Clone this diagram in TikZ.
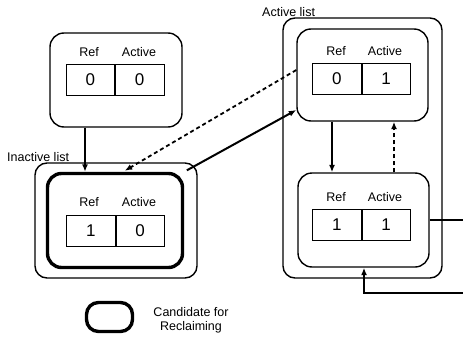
\documentclass[tikz,border=0pt]{standalone}
\usepackage{fontspec}
\setmainfont{Liberation Sans}
\usetikzlibrary{arrows.meta,calc}
\begin{document}
\begin{tikzpicture}[x=1pt,y=-1pt,
  box/.style={draw, line width=1.4pt, rounded corners=14pt, inner sep=0pt},
  listbox/.style={draw, line width=1.4pt, rounded corners=12pt, inner sep=0pt},
  thickbox/.style={draw, line width=3.4pt, rounded corners=14pt, inner sep=0pt},
  cell/.style={draw, line width=0.9pt, minimum width=48.5pt, minimum height=31pt, inner sep=0pt, font=\fontsize{17}{17}\selectfont},
  lbl/.style={font=\fontsize{12.5}{14}\selectfont, inner sep=0pt},
  arr/.style={line width=2pt, -{Latex[length=7.5pt,width=6pt]}},
  darr/.style={line width=1.8pt, dash pattern=on 4pt off 3pt, -{Latex[length=7.5pt,width=6pt]}},
  plainline/.style={line width=2pt},
]
\useasboundingbox (0,0) rectangle (463,348);

% top-left page
\node[box, minimum width=132pt, minimum height=94pt] (A) at (116,80) {};
\node[lbl] (Aref) at (89,52) {Ref};
\node[lbl] (Aact) at (139,52) {Active};
\node[cell, anchor=east] (A1) at (115,80) {0};
\node[cell, anchor=west] (A2) at (115,80) {0};

% inactive list
\node[lbl, anchor=west] (inLbl) at (7,157) {Inactive list};
\node[listbox, minimum width=162pt, minimum height=115pt] (inOuter) at (116,220.5) {};
\node[thickbox, minimum width=135pt, minimum height=94pt] (inInner) at (115,220.5) {};
\node[lbl] (Bref) at (89,202) {Ref};
\node[lbl] (Bact) at (139,202) {Active};
\node[cell, anchor=east] (B1) at (115.5,230.5) {1};
\node[cell, anchor=west] (B2) at (115.5,230.5) {0};

% active list
\node[lbl, anchor=west] (acLbl) at (262,12) {Active list};
\node[listbox, minimum width=159pt, minimum height=260pt] (acOuter) at (362.5,148) {};
\node[box, minimum width=131pt, minimum height=92pt] (upAct) at (362.5,75) {};
\node[lbl] (Cref) at (336,51) {Ref};
\node[lbl] (Cact) at (385,51) {Active};
\node[cell, anchor=east] (C1) at (361.5,79) {0};
\node[cell, anchor=west] (C2) at (361.5,79) {1};

\node[box, minimum width=131pt, minimum height=94pt] (lowAct) at (363.5,220) {};
\node[lbl] (Dref) at (336,197) {Ref};
\node[lbl] (Dact) at (385,197) {Active};
\node[cell, anchor=east] (D1) at (361.5,225) {1};
\node[cell, anchor=west] (D2) at (361.5,225) {1};

% legend
\node[thickbox, rounded corners=12pt, minimum width=46pt, minimum height=29pt] (legBox) at (109.5,317) {};
\node[lbl, align=center] (legTxt) at (191,320) {Candidate for\\Reclaiming};

% helper coordinates
\coordinate (xa) at (85,0);
\coordinate (yb) at (0,110);
\coordinate (yc) at (0,70);
\coordinate (xd) at (123,0);
\coordinate (xf) at (332,0);
\coordinate (xg) at (394,0);
\coordinate (xe) at (364,0);
\coordinate (r1) at (463,220);
\coordinate (r2) at (463,293);

% connectors
\draw[arr] (A.south -| xa) -- (inInner.north -| xa);
\draw[darr, shorten >=2pt] (upAct.west |- yc) -- (inInner.north -| xd);
\draw[arr, shorten <=3pt] (inInner.north east) -- (upAct.west |- yb);
\draw[arr] (upAct.south -| xf) -- (lowAct.north -| xf);
\draw[darr] (lowAct.north -| xg) -- (upAct.south -| xg);
\draw[plainline] (lowAct.east) -- (r1);
\draw[arr] (r2) -| (lowAct.south -| xe);
\end{tikzpicture}
\end{document}
